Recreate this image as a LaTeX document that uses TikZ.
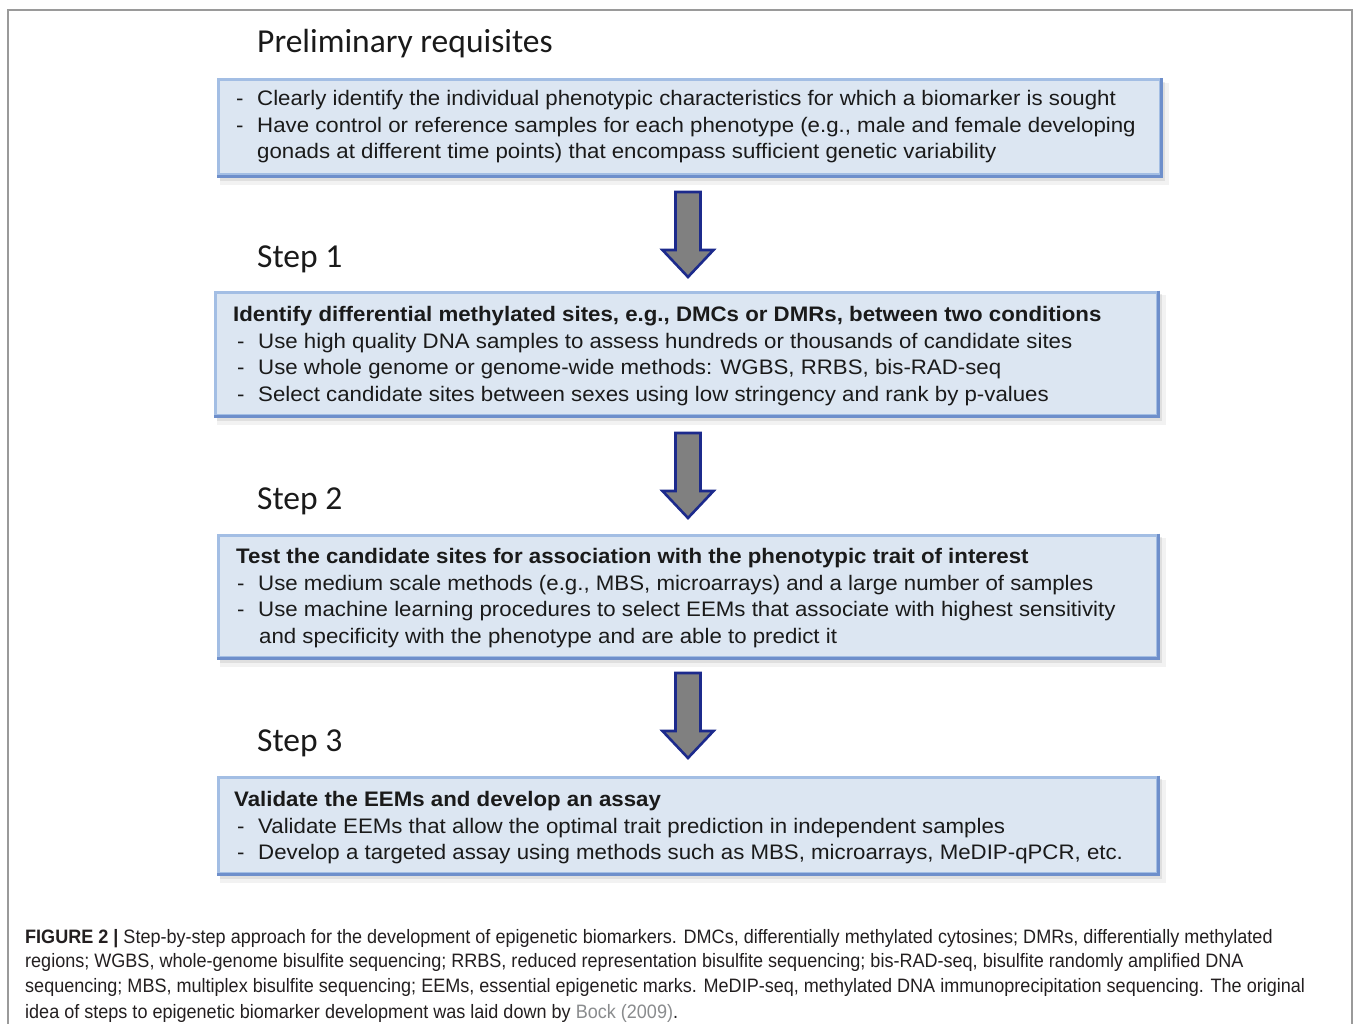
\documentclass[tikz,border=0pt]{standalone}
\usepackage{fontspec}
\setmainfont{Liberation Sans}
\newfontfamily\boxfont[FakeStretch=1.06]{Liberation Sans}
\newfontfamily\calib{Carlito}
\newfontfamily\capfont[FakeStretch=0.93]{Liberation Sans}
\usetikzlibrary{fit}
\definecolor{boxfill}{HTML}{DCE6F2}
\definecolor{boxedge}{HTML}{A3BEE4}
\definecolor{edgedark}{HTML}{6E8FCB}
\definecolor{arrowgray}{HTML}{808080}
\definecolor{arrownavy}{HTML}{1C2A8C}
\definecolor{txtcol}{HTML}{1A1A1A}
\definecolor{captext}{HTML}{231F20}
\definecolor{linkgray}{HTML}{8A8C8E}
\definecolor{framegray}{HTML}{9A9A9A}
\newcommand{\flowbox}[5]{%
  \fill[black,opacity=0.05] (#2+2,#3+3) rectangle (#4+9,#5+10);
  \fill[black,opacity=0.08] (#2+2,#3+2) rectangle (#4+5,#5+6);
  \node[fit={(#2,#3) (#4,#5)}, inner sep=0pt, boxbody] (#1) {};
  \draw[edgedark, line width=3pt] (#1.north east) -- (#1.south east) -- (#1.south west);
}
\newcommand{\blockdown}[3]{%
  \draw[arrowblk] (#2-12.5,#3) -- (#2+12.5,#3) -- (#2+12.5,#3+58) -- (#2+25.5,#3+58)
    -- (#2,#3+85) -- (#2-25.5,#3+58) -- (#2-12.5,#3+58) -- cycle;
  \coordinate (#1) at (#2,#3);
}
\begin{document}
\begin{tikzpicture}[x=1pt,y=-1pt,
  boxbody/.style={fill=boxfill, draw=boxedge, line width=3pt},
  txt/.style={anchor=base west, inner sep=0pt, text=txtcol, font=\boxfont\fontsize{21}{24}\selectfont},
  hdr/.style={anchor=base west, inner sep=0pt, text=txtcol, font=\boxfont\fontsize{21}{24}\selectfont\bfseries},
  steplbl/.style={anchor=base west, inner sep=0pt, text=txtcol, font=\calib\fontsize{33.5}{36}\selectfont},
  captxt/.style={anchor=base west, inner sep=0pt, text=captext, font=\capfont\fontsize{19.4}{22}\selectfont},
  arrowblk/.style={fill=arrowgray, draw=arrownavy, line width=2.6pt, line join=miter}]
\useasboundingbox (0,0) rectangle (1354,1024);
\fill[white] (0,0) rectangle (1354,1024);
% outer frame
\draw[framegray, line width=1.5pt] (8,1030) -- (8,10) -- (1352,10) -- (1352,1030);

\newcommand{\dl}{\makebox[21pt][l]{-}}

% Preliminary
\node[steplbl] (title) at (257,53) {Preliminary requisites};
\flowbox{b0}{218}{80}{1160}{175}
\node[txt] (b0l1) at (236,106) {\dl Clearly identify the individual phenotypic characteristics for which a biomarker is sought};
\node[txt] (b0l2) at (236,133) {\dl Have control or reference samples for each phenotype (e.g., male and female developing};
\node[txt] (b0l3) at (257,159) {gonads at different time points) that encompass sufficient genetic variability};

\blockdown{a1}{688}{192}

% Step 1
\node[steplbl] (s1) at (257,268) {Step 1};
\flowbox{b1}{215}{292}{1157}{415}
\node[hdr] (b1h) at (233,321) {Identify differential methylated sites, e.g., DMCs or DMRs, between two conditions};
\node[txt] (b1l1) at (237,348) {\dl Use high quality DNA samples to assess hundreds or thousands of candidate sites};
\node[txt] (b1l2) at (237,374) {\dl Use whole genome or genome-wide methods: WGBS, RRBS, bis-RAD-seq};
\node[txt] (b1l3) at (237,401) {\dl Select candidate sites between sexes using low stringency and rank by p-values};

\blockdown{a2}{688}{433}

% Step 2
\node[steplbl] (s2) at (257,509) {Step 2};
\flowbox{b2}{218}{535}{1157}{657}
\node[hdr] (b2h) at (236,563) {Test the candidate sites for association with the phenotypic trait of interest};
\node[txt] (b2l1) at (237,590) {\dl Use medium scale methods (e.g., MBS, microarrays) and a large number of samples};
\node[txt] (b2l2) at (237,616) {\dl Use machine learning procedures to select EEMs that associate with highest sensitivity};
\node[txt] (b2l3) at (259,643) {and specificity with the phenotype and are able to predict it};

\blockdown{a3}{688}{673}

% Step 3
\node[steplbl] (s3) at (257,751) {Step 3};
\flowbox{b3}{218}{777}{1157}{873}
\node[hdr] (b3h) at (234,806) {Validate the EEMs and develop an assay};
\node[txt] (b3l1) at (237,833) {\dl Validate EEMs that allow the optimal trait prediction in independent samples};
\node[txt] (b3l2) at (237,859) {\dl Develop a targeted assay using methods such as MBS, microarrays, MeDIP-qPCR, etc.};

% caption
\node[captxt] (c1) at (25,943) {\textbf{FIGURE 2 |} Step-by-step approach for the development of epigenetic biomarkers. DMCs, differentially methylated cytosines; DMRs, differentially methylated};
\node[captxt] (c2) at (25,967) {regions; WGBS, whole-genome bisulfite sequencing; RRBS, reduced representation bisulfite sequencing; bis-RAD-seq, bisulfite randomly amplified DNA};
\node[captxt] (c3) at (25,992) {sequencing; MBS, multiplex bisulfite sequencing; EEMs, essential epigenetic marks. MeDIP-seq, methylated DNA immunoprecipitation sequencing. The original};
\node[captxt] (c4) at (25,1018) {idea of steps to epigenetic biomarker development was laid down by \textcolor{linkgray}{Bock (2009)}.};
\end{tikzpicture}
\end{document}
